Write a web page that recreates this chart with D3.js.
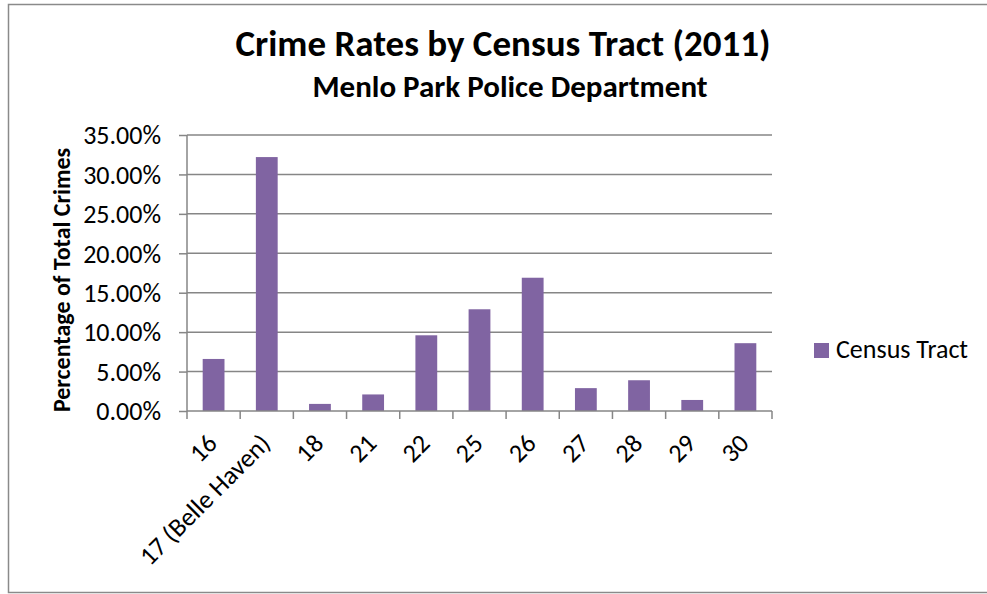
<!DOCTYPE html>
<html>
<head>
<meta charset="utf-8">
<script src="https://cdn.jsdelivr.net/npm/d3@7"></script>
<style>
  body { margin: 0; background: #fff; }
  text { font-family: Carlito, Calibri, Lato, sans-serif; fill: #000; }
</style>
</head>
<body>
<div id="vis-container"></div>
<script>
// Chart data
var tracts = ["16", "17 (Belle Haven)", "18", "21", "22", "25", "26", "27", "28", "29", "30"];
var crimeShare = [0.066, 0.322, 0.009, 0.021, 0.096, 0.129, 0.169, 0.029, 0.039, 0.014, 0.086];
var yTicks = [0, 0.05, 0.10, 0.15, 0.20, 0.25, 0.30, 0.35];
var seriesName = "Census Tract";
var titleText = "Crime Rates by Census Tract (2011)";
var subtitleText = "Menlo Park Police Department";
var yTitleText = "Percentage of Total Crimes";

var W = 987, H = 594;
var margin = { top: 135, left: 187, right: 215, bottom: 183 };
var width = W - margin.left - margin.right;
var height = H - margin.top - margin.bottom;
var barColor = "#8064a2";
var gridColor = "#868686";

var svg = d3.select("#vis-container")
  .append("svg")
    .attr("width", W)
    .attr("height", H);

// outer chart border
svg.append("rect")
  .attr("x", 8.5).attr("y", 4.5)
  .attr("width", W).attr("height", 588)
  .attr("fill", "none")
  .attr("stroke", "#8a8a8a")
  .attr("stroke-width", 1.5);

var canvas = svg.append("g")
  .attr("transform", "translate(" + margin.left + "," + margin.top + ")");

var xScale = d3.scaleBand()
  .domain(tracts)
  .range([0, width])
  .paddingInner(0.59)
  .paddingOuter(0.295);

var yScale = d3.scaleLinear()
  .domain([0, 0.35])
  .range([height, 0]);

// gridlines
canvas.append("g")
  .selectAll("line")
  .data(yTicks.slice(1))
  .enter().append("line")
    .attr("x1", 0).attr("x2", width)
    .attr("y1", function(d) { return yScale(d); })
    .attr("y2", function(d) { return yScale(d); })
    .attr("stroke", gridColor)
    .attr("stroke-width", 1.5);

// bars
canvas.selectAll(".bar")
  .data(crimeShare)
  .enter().append("rect")
    .attr("class", "bar")
    .attr("x", function(d, i) { return xScale(tracts[i]); })
    .attr("width", xScale.bandwidth())
    .attr("y", function(d) { return yScale(d); })
    .attr("height", function(d) { return height - yScale(d); })
    .attr("fill", barColor);

// y axis
var yAxis = d3.axisLeft(yScale)
  .tickValues(yTicks)
  .tickFormat(d3.format(".2%"))
  .tickSize(8)
  .tickPadding(18);
var yG = canvas.append("g").call(yAxis);
yG.select(".domain").attr("stroke", gridColor).attr("stroke-width", 1.5)
  .attr("d", "M0," + height + "V0");
yG.selectAll(".tick line").attr("stroke", gridColor).attr("stroke-width", 1.5);
yG.selectAll(".tick text")
  .style("font-size", "26px")
  .attr("dy", "0.34em");

// x axis: ticks between categories
var step = xScale.step();
var xG = canvas.append("g").attr("transform", "translate(0," + height + ")");
xG.append("line")
  .attr("x1", 0).attr("x2", width)
  .attr("stroke", gridColor).attr("stroke-width", 1.5);
xG.selectAll(".xtick")
  .data(d3.range(tracts.length + 1))
  .enter().append("line")
    .attr("class", "xtick")
    .attr("x1", function(d) { return d * step; })
    .attr("x2", function(d) { return d * step; })
    .attr("y1", 0).attr("y2", 8)
    .attr("stroke", gridColor).attr("stroke-width", 1.5);
xG.selectAll(".xlabel")
  .data(tracts)
  .enter().append("text")
    .attr("class", "xlabel")
    .attr("text-anchor", "end")
    .style("font-size", "26px")
    .attr("transform", function(d) {
      var cx = xScale(d) + xScale.bandwidth() / 2 + 5;
      return "translate(" + cx + ",34) rotate(-45)";
    })
    .text(function(d) { return d; });

// titles
svg.append("text")
  .attr("x", 503).attr("y", 56)
  .attr("text-anchor", "middle")
  .style("font-size", "37px").style("font-weight", "bold")
  .text(titleText);
svg.append("text")
  .attr("x", 510).attr("y", 97)
  .attr("text-anchor", "middle")
  .style("font-size", "31px").style("font-weight", "bold")
  .text(subtitleText);

svg.append("text")
  .attr("transform", "translate(70,280) rotate(-90)")
  .attr("text-anchor", "middle")
  .style("font-size", "24px").style("font-weight", "bold")
  .text(yTitleText);

// legend
var legend = svg.append("g").attr("transform", "translate(814,343)");
legend.append("rect")
  .attr("width", 15).attr("height", 15)
  .attr("fill", barColor);
legend.append("text")
  .attr("x", 22).attr("y", 15)
  .style("font-size", "26px")
  .text(seriesName);
</script>
</body>
</html>
